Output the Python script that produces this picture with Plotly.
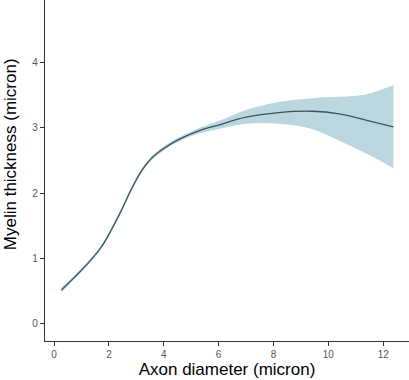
import plotly.graph_objects as go

axon_diameter = [0.27, 0.76, 1.24, 1.73, 2.09, 2.46, 2.82, 3.19, 3.55, 4.0, 4.5, 5.2, 6.0, 7.0, 8.2, 9.4, 10.4, 11.4, 12.37]
myelin_fit = [0.52, 0.72, 0.93, 1.18, 1.44, 1.74, 2.06, 2.34, 2.53, 2.68, 2.81, 2.94, 3.04, 3.16, 3.23, 3.25, 3.21, 3.11, 3.01]
ci_lower = [0.48, 0.69, 0.90, 1.15, 1.41, 1.71, 2.03, 2.31, 2.50, 2.65, 2.78, 2.90, 2.98, 3.06, 3.06, 2.98, 2.80, 2.60, 2.38]
ci_upper = [0.56, 0.75, 0.96, 1.21, 1.47, 1.77, 2.09, 2.37, 2.56, 2.71, 2.84, 2.98, 3.10, 3.27, 3.39, 3.45, 3.47, 3.51, 3.65]

x_ticks = [0, 2, 4, 6, 8, 10, 12]
y_ticks = [0, 1, 2, 3, 4]

fig = go.Figure()
fig.add_trace(go.Scatter(x=axon_diameter, y=ci_lower, mode="lines",
                         line=dict(width=0, shape="spline"), showlegend=False, hoverinfo="skip"))
fig.add_trace(go.Scatter(x=axon_diameter, y=ci_upper, mode="lines", fill="tonexty",
                         fillcolor="rgb(188,214,222)",
                         line=dict(width=0, shape="spline"), showlegend=False, hoverinfo="skip"))
fig.add_trace(go.Scatter(x=axon_diameter, y=myelin_fit, mode="lines",
                         line=dict(color="rgb(55,85,96)", width=1.3, shape="spline"), showlegend=False))

axis_common = dict(showgrid=False, zeroline=False, showline=True, linecolor="#333333", linewidth=1.2,
                   ticks="outside", ticklen=4, tickcolor="#333333", tickwidth=1, automargin=False,
                   tickfont=dict(family="Liberation Sans, Arial", size=10, color="#555555"))

fig.update_layout(
    width=409, height=380,
    margin=dict(l=45, r=0, t=0, b=39),
    paper_bgcolor="white", plot_bgcolor="white",
    font=dict(family="Liberation Sans, Arial"),
    xaxis=dict(range=[-0.33, 12.94], tickvals=x_ticks, ticktext=[str(v) for v in x_ticks],
               title=dict(text="Axon diameter (micron)", font=dict(size=17, color="black"), standoff=0),
               **axis_common),
    yaxis=dict(range=[-0.26, 4.95], tickvals=y_ticks, ticktext=[str(v) for v in y_ticks],
               **axis_common),
    annotations=[dict(text="Myelin thickness (micron)", xref="paper", yref="paper",
                      x=-0.096, y=0.548, xanchor="center", yanchor="middle", textangle=-90,
                      showarrow=False, font=dict(size=17, color="black"))],
)

fig.write_html("out.html", config={"displayModeBar": False},
               post_script="document.body.style.margin='0';document.body.style.overflow='hidden';")
